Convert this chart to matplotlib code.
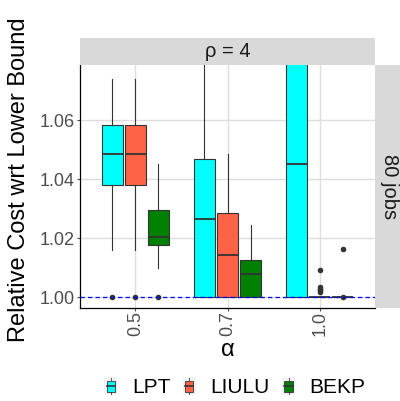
import numpy as np
import matplotlib
matplotlib.use('Agg')
import matplotlib.pyplot as plt
from matplotlib.patches import Rectangle, Patch
from matplotlib.lines import Line2D
from matplotlib.legend_handler import HandlerBase

plt.rcParams['font.family'] = ['Liberation Sans', 'DejaVu Sans']

alphas = ['0.5', '0.7', '1.0']
algos = ['LPT', 'LIULU', 'BEKP']
colors = {'LPT': '#00ffff', 'LIULU': '#ff6347', 'BEKP': '#008000'}

# box statistics per algorithm, one value per alpha
whislo = {'LPT': [1.016, 1.000, 1.000], 'LIULU': [1.016, 1.000, 1.000], 'BEKP': [1.0098, 1.000, 1.000]}
q1 = {'LPT': [1.0381, 1.000, 1.000], 'LIULU': [1.0381, 1.000, 1.000], 'BEKP': [1.0179, 1.000, 1.000]}
med = {'LPT': [1.0484, 1.0266, 1.0452], 'LIULU': [1.0484, 1.0145, 1.000], 'BEKP': [1.0206, 1.0080, 1.000]}
q3 = {'LPT': [1.0585, 1.0469, 1.095], 'LIULU': [1.0585, 1.0287, 1.000], 'BEKP': [1.0297, 1.0128, 1.000]}
whishi = {'LPT': [1.0741, 1.100, 1.150], 'LIULU': [1.0741, 1.0486, 1.000], 'BEKP': [1.0452, 1.0246, 1.000]}
fliers = {'LPT': [[1.000], [], []],
          'LIULU': [[1.000], [], [1.0092, 1.0036, 1.0030, 1.0024, 1.0018]],
          'BEKP': [[1.000], [], [1.0165, 1.000]]}

yticks = [1.00, 1.02, 1.04, 1.06]


class BoxKey(HandlerBase):
    def create_artists(self, legend, orig_handle, xdescent, ydescent, width, height, fontsize, trans):
        x0, y0 = -xdescent, -ydescent
        bg = Rectangle((x0, y0), width, height, fc='#f2f2f2', ec='none', transform=trans)
        bw = width * 0.65
        bx = x0 + (width - bw) / 2
        box = Rectangle((bx, y0 + height * 0.2), bw, height * 0.6, fc=orig_handle.get_facecolor(),
                        ec='#333333', lw=0.6, transform=trans)
        cx = x0 + width / 2
        wl = Line2D([cx, cx], [y0 + height * 0.05, y0 + height * 0.2], color='#333333', lw=0.6, transform=trans)
        wh = Line2D([cx, cx], [y0 + height * 0.8, y0 + height * 0.95], color='#333333', lw=0.6, transform=trans)
        ml = Line2D([bx, bx + bw], [y0 + height / 2] * 2, color='#333333', lw=1.2, transform=trans)
        return [bg, box, wl, wh, ml]


fig = plt.figure(figsize=(4, 4.01), dpi=100)
W, H = 400, 401
ax = fig.add_axes([80 / W, 1 - 308 / H, 295 / W, 243 / H])

pos = np.arange(1, len(alphas) + 1)
offsets = [-0.25, 0, 0.25]
for k, a in enumerate(algos):
    stats = []
    for i in range(len(alphas)):
        stats.append(dict(med=med[a][i], q1=q1[a][i], q3=q3[a][i], whislo=whislo[a][i],
                          whishi=whishi[a][i], fliers=fliers[a][i]))
    ax.bxp(stats, positions=pos + offsets[k], widths=0.225, patch_artist=True,
           showcaps=False,
           boxprops=dict(facecolor=colors[a], edgecolor='#333333', linewidth=0.8),
           medianprops=dict(color='#333333', linewidth=1.3),
           whiskerprops=dict(color='#333333', linewidth=0.8),
           flierprops=dict(marker='o', markersize=3, markerfacecolor='#333333', markeredgecolor='#333333'),
           zorder=3)

ax.axhline(1.0, color='blue', linestyle=(0, (3.5, 2.5)), linewidth=0.9, zorder=4)

ax.set_xlim(0.4, 3.6)
ax.set_ylim(0.9964, 1.0787)
ax.set_xticks(pos)
ax.set_xticklabels(alphas, rotation=90, fontsize=13, color='#4d4d4d')
ax.set_yticks(yticks)
ax.set_yticklabels(['%.2f' % v for v in yticks], fontsize=13, color='#4d4d4d')
ax.tick_params(length=2.5, width=0.8, color='#4d4d4d', pad=1.5)
ax.tick_params(axis='x', pad=0)
ax.grid(True, color='#dedede', linewidth=1.0, zorder=0)
ax.set_axisbelow(True)
for s in ['top', 'right']:
    ax.spines[s].set_visible(False)
for s in ['left', 'bottom']:
    ax.spines[s].set_color('black')
    ax.spines[s].set_linewidth(0.9)

# facet strips
fig.patches.append(Rectangle((80 / W, 1 - 65 / H), 295 / W, 27 / H, transform=fig.transFigure,
                             fc='#d9d9d9', ec='none'))
fig.text(227.5 / W, 1 - 51.5 / H, 'ρ = 4', ha='center', va='center', fontsize=14.5, color='#1a1a1a')
fig.patches.append(Rectangle((375 / W, 1 - 308 / H), 30 / W, 243 / H, transform=fig.transFigure,
                             fc='#d9d9d9', ec='none'))
fig.text(389 / W, 1 - 187 / H, '80 jobs', ha='center', va='center', rotation=270, fontsize=14.5, color='#1a1a1a')

fig.text(19 / W, 1 - 180 / H, 'Relative Cost wrt Lower Bound', ha='center', va='center', rotation=90, fontsize=17)
fig.text(227.5 / W, 1 - 350 / H, 'α', ha='center', va='center', fontsize=17)

handles = [Patch(facecolor=colors[a]) for a in algos]
fig.legend(handles, algos, handler_map={Patch: BoxKey()}, loc='center', bbox_to_anchor=(235 / W, 1 - 387 / H),
           ncol=3, frameon=False, fontsize=15, handlelength=0.62, handleheight=1.0, handletextpad=0.7,
           columnspacing=0.6)

fig.savefig('out.png', dpi=100, facecolor='white')
